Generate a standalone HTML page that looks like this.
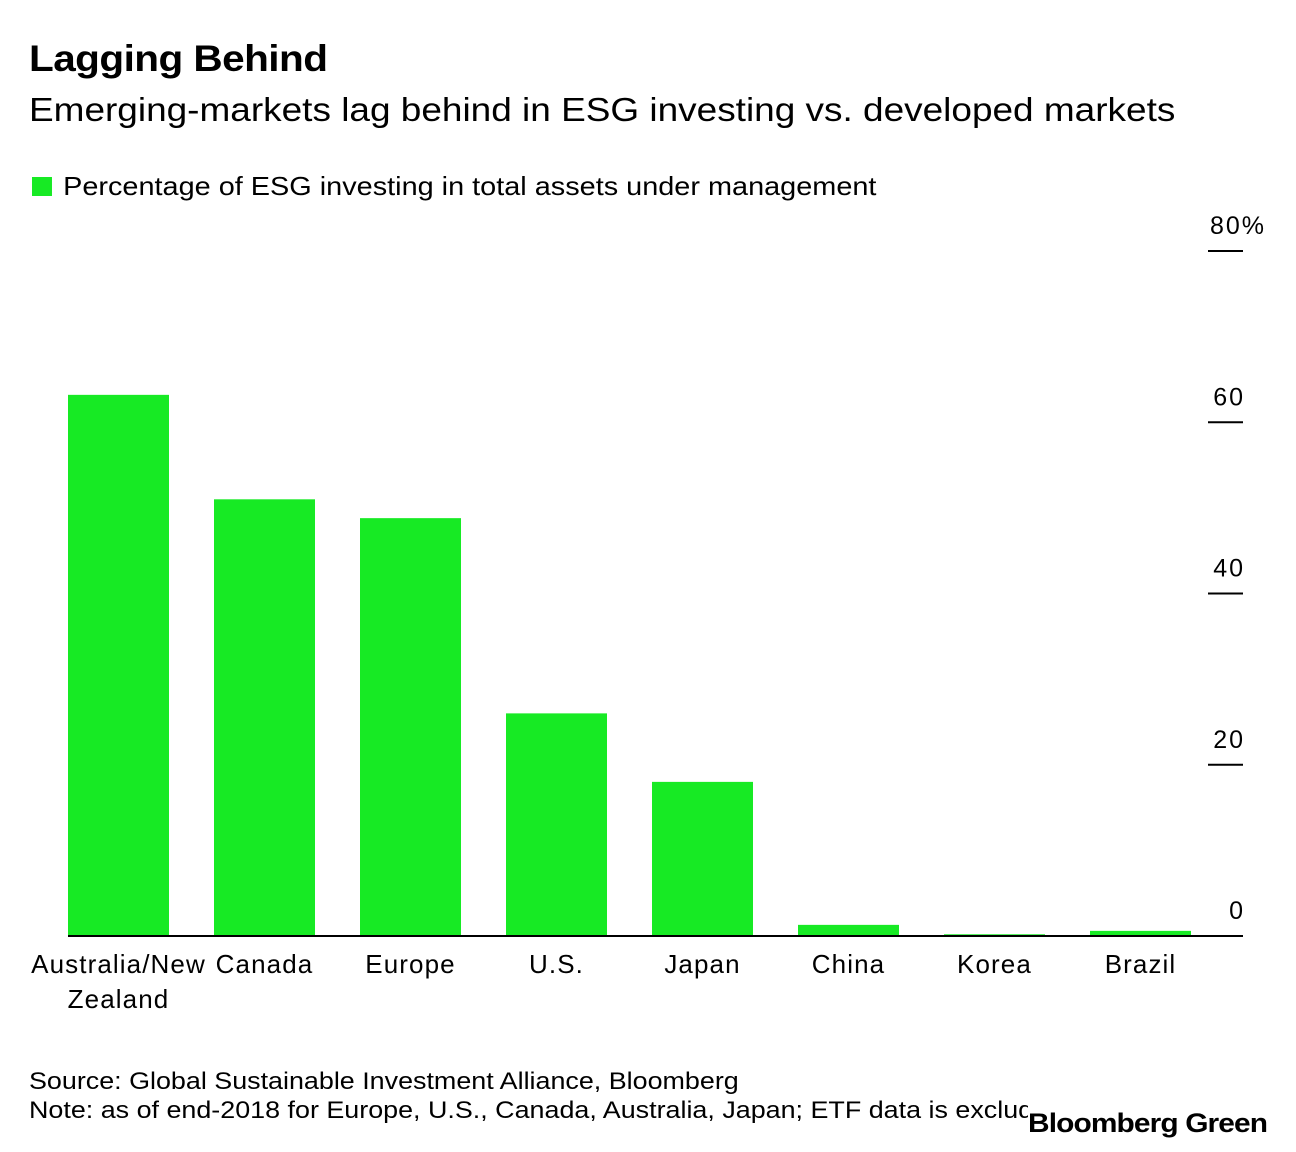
<!DOCTYPE html>
<html><head><meta charset="utf-8"><style>
body{margin:0;background:#fff;font-family:"Liberation Sans",sans-serif;color:#000}
#wrap{position:relative;width:1296px;height:1152px;overflow:hidden}
.t{position:absolute;white-space:nowrap;transform-origin:0 0}
</style></head><body>
<div id="wrap">
<div class="t" style="left:29px;top:38px;font-size:37px;font-weight:bold;letter-spacing:-0.5px;transform:scaleX(1.095)">Lagging Behind</div>
<div class="t" style="left:29px;top:91px;font-size:33px;transform:scaleX(1.12)">Emerging-markets lag behind in ESG investing vs. developed markets</div>
<div class="t" style="left:32px;top:171px;font-size:26px;transform:scaleX(1.11)"><span style="display:inline-block;width:18px;height:19px;background:#17ea24;margin-right:10px;vertical-align:-1px"></span>Percentage of ESG investing in total assets under management</div>
<svg id="svg" width="1296" height="1152" style="position:absolute;left:0;top:0"></svg>
<div class="t" style="left:29px;top:1068px;font-size:24px;transform:scaleX(1.12)">Source: Global Sustainable Investment Alliance, Bloomberg</div>
<div class="t" style="left:29px;top:1097px;width:999px;height:32px;overflow:hidden"><div class="t" style="left:0;top:0;font-size:24px;transform:scaleX(1.12)">Note: as of end-2018 for Europe, U.S., Canada, Australia, Japan; ETF data is excluded</div></div>
<div class="t" style="left:1028px;top:1108px;font-size:27px;font-weight:bold;letter-spacing:-0.8px;transform:scaleX(1.107)">Bloomberg Green</div>
</div>
<script>
const categories=["Australia/New Zealand","Canada","Europe","U.S.","Japan","China","Korea","Brazil"];
const values=[63.2,51.0,48.8,26.0,18.0,1.3,0.2,0.6];
const ticks=[0,20,40,60,80];
const tickLabels=["0","20","40","60","80%"];
const NS="http://www.w3.org/2000/svg";
const svg=document.getElementById('svg');
const y0=936,pxPer=8.5625;
function y(v){return y0-v*pxPer;}
function x(i){return 68+i*146;}
const bw=101;
function mk(t,a){const e=document.createElementNS(NS,t);for(const k in a)e.setAttribute(k,a[k]);svg.appendChild(e);return e;}
values.forEach((v,i)=>{
 const r=mk('rect',{x:x(i),y:y(v),width:bw,height:y0-y(v),fill:'#17ea24'});
 
 
 const words=categories[i]=="Australia/New Zealand"?["Australia/New","Zealand"]:[categories[i]];
 words.forEach((w,j)=>{
  const t=mk('text',{x:x(i)+bw/2,y:973+j*35,'text-anchor':'middle','font-size':26,'letter-spacing':'1.1','font-family':'Liberation Sans, sans-serif'});
  t.textContent=w;
  
  
 });
});
const base=mk('line',{x1:68,x2:1243,y1:y0,y2:y0,stroke:'#000','stroke-width':2});


ticks.forEach((v,i)=>{
 if(v>0){const l=mk('line',{x1:1208,x2:1243,y1:y(v),y2:y(v),stroke:'#000','stroke-width':2});
 
 }
 const t=mk('text',{x:v==80?1210:1245,y:y(v)-17,'text-anchor':v==80?'start':'end','font-size':25,'letter-spacing':'2','font-family':'Liberation Sans, sans-serif'});
 t.textContent=tickLabels[i];
 
 
});
</script>
</body></html>
